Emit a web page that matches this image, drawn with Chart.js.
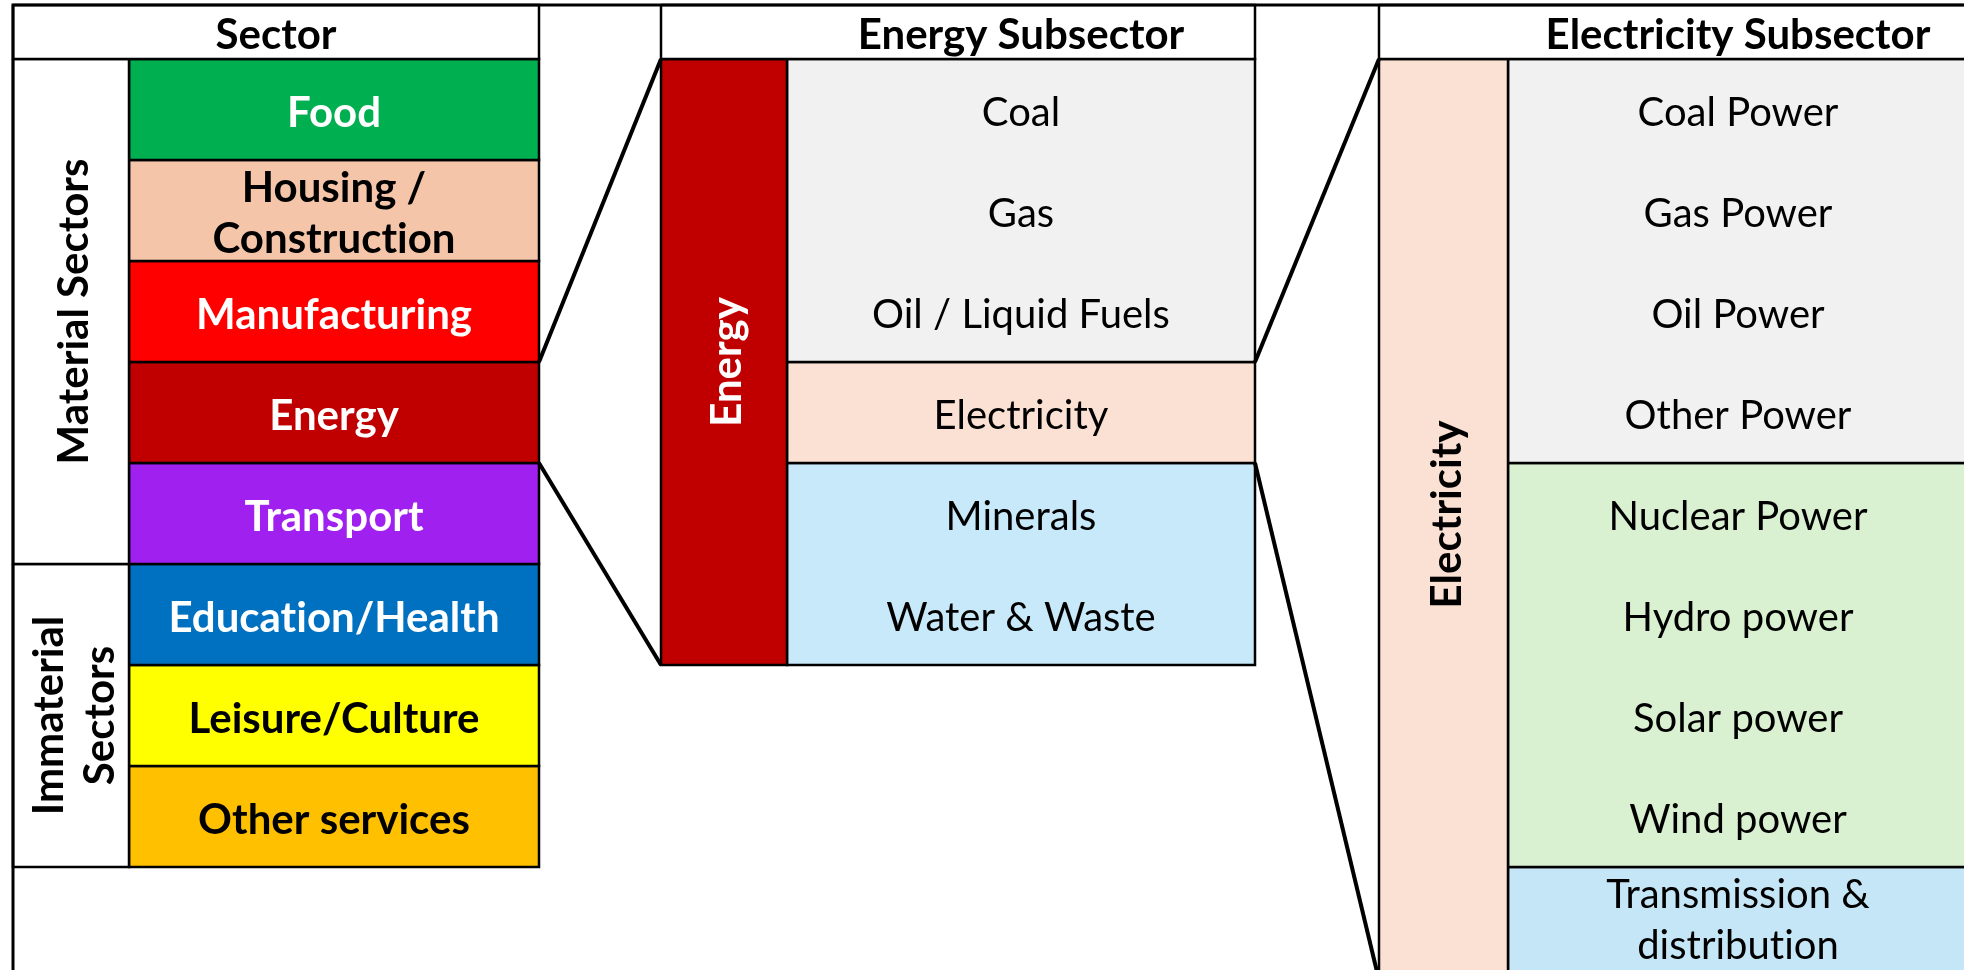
<!DOCTYPE html>
<html>
<head>
<meta charset="utf-8">
<script src="https://cdn.jsdelivr.net/npm/chart.js@4.4.1/dist/chart.umd.min.js"></script>
<style>
  html, body { margin: 0; padding: 0; background: #fff; }
  #wrap { width: 1964px; height: 970px; }
</style>
</head>
<body>
<div id="wrap"><canvas id="sectorChart"></canvas></div>
<script>
// --- data: row spans are counted in table rows ---
var headers = ["Sector", "Energy Subsector", "Electricity Subsector"];

var sectors = ["Food", "Housing /\nConstruction", "Manufacturing", "Energy", "Transport",
  "Education/Health", "Leisure/Culture", "Other services"];
var sectorGroups = ["Material Sectors", "Immaterial\nSectors"];
var sectorGroupRows = [5, 3];

var energyLabel = "Energy";
var energyItems = ["Coal", "Gas", "Oil / Liquid Fuels", "Electricity", "Minerals", "Water & Waste"];
var energyBlockRows = [3, 1, 2];

var elecLabel = "Electricity";
var elecItems = ["Coal Power", "Gas Power", "Oil Power", "Other Power", "Nuclear Power",
  "Hydro power", "Solar power", "Wind power", "Transmission &\ndistribution"];
var elecBlockRows = [4, 4, 1];

// --- styles ---
var sectorColors = ["#00B050", "#F4C5A9", "#FF0000", "#C00000", "#A020F0", "#0070C0", "#FFFF00", "#FFC000"];
var sectorTextColors = ["#fff", "#000", "#fff", "#fff", "#fff", "#fff", "#000", "#000"];
var energyBlockColors = ["#F1F1F1", "#FBE0D4", "#C8E9F9"];
var elecBlockColors = ["#F1F1F1", "#DAF1D1", "#C4E6F6"];

// --- layout (x in px, y in rows) ---
var COL = { frame: 13, secLab: 129, secEnd: 539, enStart: 661, enLab: 787, enEnd: 1255,
  elStart: 1379, elLab: 1508, elEnd: 1968 };
var HEAD_TOP = -0.535;
var Y_MIN = -0.584, Y_MAX = 9.02;
var BOLD_SIZE = 42, REG_SIZE = 40;
var BOLD = "bold " + BOLD_SIZE + "px Lato", REG = REG_SIZE + "px Lato";

function rect(x0, x1, y0, y1, fill) {
  return {
    data: [{ x: x0, y: y0 }, { x: x1, y: y0 }, { x: x1, y: y1 }, { x: x0, y: y1 }, { x: x0, y: y0 }],
    showLine: true, fill: "shape", backgroundColor: fill, borderColor: "#000",
    borderWidth: 2.5, borderJoinStyle: "miter", pointRadius: 0, order: 2
  };
}
function seg(pts, w) {
  return {
    data: pts.map(function (p) { return { x: p[0], y: p[1] }; }),
    showLine: true, fill: false, borderColor: "#000", borderWidth: w,
    borderJoinStyle: "miter", pointRadius: 0, order: 0
  };
}

var datasets = [];
var labels = [];

// headers
datasets.push(rect(COL.frame, COL.secEnd, HEAD_TOP, 0, "#fff"));
datasets.push(rect(COL.enStart, COL.enEnd, HEAD_TOP, 0, "#fff"));
datasets.push(rect(COL.elStart, COL.elEnd + 20, HEAD_TOP, 0, "#fff"));
labels.push({ text: headers[0], x: (COL.frame + COL.secEnd) / 2, y: HEAD_TOP / 2, font: BOLD, size: BOLD_SIZE });
labels.push({ text: headers[1], x: (COL.enLab + COL.enEnd) / 2, y: HEAD_TOP / 2, font: BOLD, size: BOLD_SIZE });
labels.push({ text: headers[2], x: (COL.elLab + COL.elEnd) / 2, y: HEAD_TOP / 2, font: BOLD, size: BOLD_SIZE });

// sector groups
var r = 0;
sectorGroups.forEach(function (g, i) {
  datasets.push(rect(COL.frame, COL.secLab, r, r + sectorGroupRows[i], "#fff"));
  labels.push({ text: g, x: (COL.frame + COL.secLab) / 2, y: r + sectorGroupRows[i] / 2,
    font: BOLD, size: BOLD_SIZE, rot: true });
  r += sectorGroupRows[i];
});
// sectors
sectors.forEach(function (s, i) {
  datasets.push(rect(COL.secLab, COL.secEnd, i, i + 1, sectorColors[i]));
  labels.push({ text: s, x: (COL.secLab + COL.secEnd) / 2, y: i + 0.5, font: BOLD, size: BOLD_SIZE,
    color: sectorTextColors[i] });
});

// energy subsector
var energyRows = energyBlockRows.reduce(function (a, b) { return a + b; }, 0);
datasets.push(rect(COL.enStart, COL.enLab, 0, energyRows, sectorColors[3]));
labels.push({ text: energyLabel, x: (COL.enStart + COL.enLab) / 2, y: energyRows / 2,
  font: BOLD, size: BOLD_SIZE, rot: true, color: "#fff" });
r = 0;
energyBlockRows.forEach(function (n, i) {
  datasets.push(rect(COL.enLab, COL.enEnd, r, r + n, energyBlockColors[i]));
  r += n;
});
energyItems.forEach(function (s, i) {
  labels.push({ text: s, x: (COL.enLab + COL.enEnd) / 2, y: i + 0.5, font: REG, size: REG_SIZE });
});

// electricity subsector
var elecBottom = Y_MAX + 0.15;
datasets.push(rect(COL.elStart, COL.elLab, 0, elecBottom, energyBlockColors[1]));
labels.push({ text: elecLabel, x: (COL.elStart + COL.elLab) / 2, y: Y_MAX / 2,
  font: BOLD, size: BOLD_SIZE, rot: true });
r = 0;
elecBlockRows.forEach(function (n, i) {
  var end = i === elecBlockRows.length - 1 ? elecBottom : r + n;
  datasets.push(rect(COL.elLab, COL.elEnd + 20, r, end, elecBlockColors[i]));
  r += n;
});
elecItems.forEach(function (s, i) {
  labels.push({ text: s, x: (COL.elLab + COL.elEnd) / 2, y: i + 0.5, font: REG, size: REG_SIZE });
});

// outer frame + zoom connectors
datasets.push(seg([[COL.frame, Y_MAX + 0.2], [COL.frame, HEAD_TOP], [COL.elEnd + 20, HEAD_TOP]], 3));
datasets.push(seg([[COL.secEnd, 3], [COL.enStart, 0]], 4));
datasets.push(seg([[COL.secEnd, 4], [COL.enStart, energyRows]], 4));
datasets.push(seg([[COL.enEnd, 3], [COL.elStart, 0]], 4));
datasets.push(seg([[COL.enEnd, 4], [COL.elStart, 9.12]], 4));

var textPlugin = {
  id: "cellText",
  afterDatasetsDraw: function (chart) {
    var c = chart.ctx, xs = chart.scales.x, ys = chart.scales.y;
    labels.forEach(function (t) {
      var px = xs.getPixelForValue(t.x), py = ys.getPixelForValue(t.y);
      var lines = t.text.split("\n");
      var lh = 51;
      c.save();
      c.translate(px, py);
      if (t.rot) c.rotate(-Math.PI / 2);
      c.font = t.font;
      c.letterSpacing = "0.01px"; // keeps Lato from drawing the "ti" ligature
      c.fillStyle = t.color || "#000";
      c.textAlign = "center";
      c.textBaseline = "alphabetic";
      var capShift = t.size * 0.7165 / 2 + 2;
      lines.forEach(function (l, i) {
        c.fillText(l, 0, (i - (lines.length - 1) / 2) * lh + capShift);
      });
      c.restore();
    });
  }
};

var ctx = document.getElementById("sectorChart").getContext("2d");
var sectorChart = new Chart(ctx, {
  type: "scatter",
  data: { datasets: datasets },
  options: {
    responsive: true,
    maintainAspectRatio: false,
    animation: false,
    layout: { padding: 0 },
    plugins: { legend: { display: false }, tooltip: { enabled: false } },
    scales: {
      x: { type: "linear", min: 0, max: 1964, display: false },
      y: { type: "linear", min: Y_MIN, max: Y_MAX, reverse: true, display: false }
    }
  },
  plugins: [textPlugin]
});
</script>
</body>
</html>
